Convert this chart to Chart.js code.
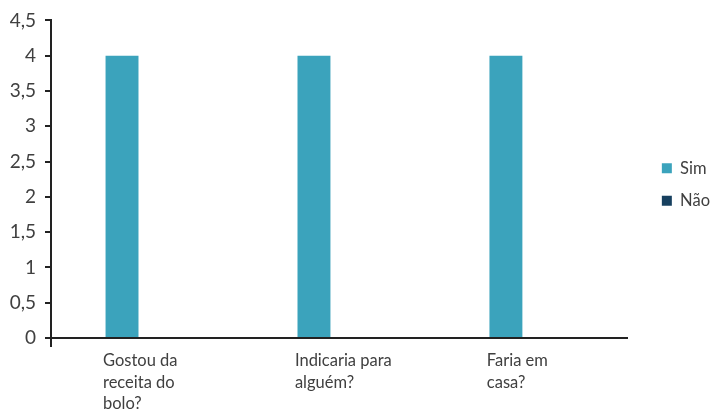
<!DOCTYPE html>
<html>
<head>
<meta charset="utf-8">
<script src="https://cdn.jsdelivr.net/npm/chart.js@4/dist/chart.umd.min.js"></script>
<style>
html,body{margin:0;padding:0;background:#fff;}
#wrap{width:711px;height:415px;position:relative;}
</style>
</head>
<body>
<div id="wrap"><canvas id="c"></canvas></div>
<script>
const categories = [["Gostou da","receita do","bolo?"],["Indicaria para","alguém?"],["Faria em","casa?"]];
const seriesNames = ["Sim","Não"];
const simValues = [4,4,4];
const naoValues = [0,0,0];
const yTicks = [0,0.5,1,1.5,2,2.5,3,3.5,4,4.5];

const FONT = "Lato";
const TXT = "#404040";

const legendShift = {
  id: 'legendShift',
  afterLayout(chart){
    if (chart.legend){
      chart.legend.left += 19; chart.legend.right += 19;
      chart.legend.top -= 29; chart.legend.bottom -= 29;
    }
  }
};

new Chart(document.getElementById('c'), {
  type: 'bar',
  data: {
    labels: categories,
    datasets: [
      {label: seriesNames[0], data: simValues, backgroundColor: '#3BA3BC', categoryPercentage: 0.52, barPercentage: 0.66},
      {label: seriesNames[1], data: naoValues, backgroundColor: '#17405F', categoryPercentage: 0.52, barPercentage: 0.66}
    ]
  },
  options: {
    responsive: true,
    maintainAspectRatio: false,
    animation: false,
    layout: {padding: {top: 12, right: 10, left: 0, bottom: 0}},
    plugins: {
      legend: {
        position: 'right',
        labels: {boxWidth: 10, boxHeight: 10, padding: 16, color: TXT, font: {family: FONT, size: 16.5, weight: 400}}
      },
      tooltip: {enabled: false}
    },
    scales: {
      x: {
        border: {display: true, color: '#222', width: 2},
        grid: {
          display: true, drawOnChartArea: false, drawTicks: true, tickLength: 9,
          color: ctx => ctx.index === 0 ? '#222' : 'rgba(0,0,0,0)', lineWidth: 2
        },
        ticks: {align: 'start', labelOffset: -44, padding: 3, color: TXT, font: {family: FONT, size: 16.5, weight: 400, lineHeight: 1.3}, maxRotation: 0, autoSkip: false},
        afterFit: s => { s.height = 77; }
      },
      y: {
        min: 0, max: 4.5,
        afterBuildTicks: s => { s.ticks = yTicks.map(v => ({value: v})); },
        border: {display: true, color: '#222', width: 2},
        grid: {display: true, drawOnChartArea: false, drawTicks: true, tickLength: 6, color: '#222', lineWidth: 2},
        ticks: {padding: 9, color: TXT, font: {family: FONT, size: 19, weight: 400},
          callback: v => String(v).replace('.', ',')},
        afterFit: s => { s.width = 51; }
      }
    }
  },
  plugins: [legendShift]
});
</script>
</body>
</html>
